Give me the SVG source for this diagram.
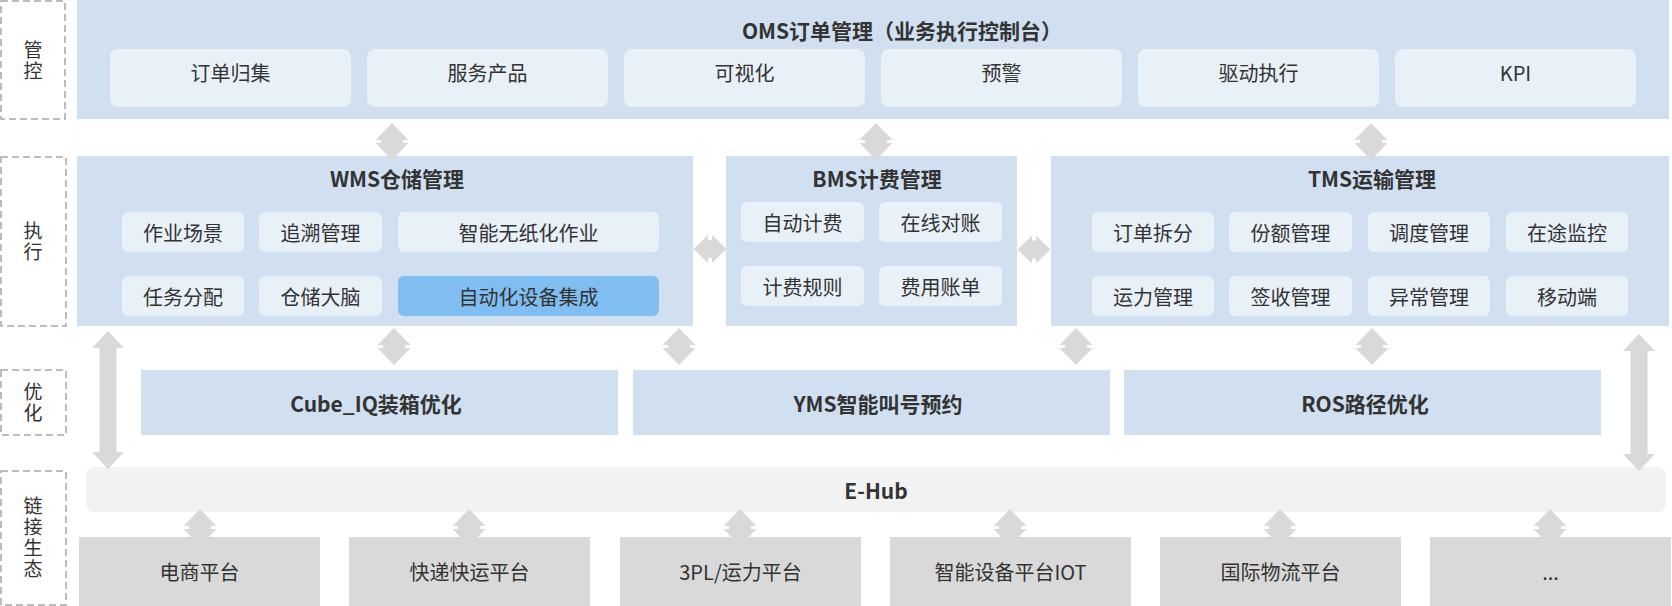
<svg xmlns="http://www.w3.org/2000/svg" xmlns:xlink="http://www.w3.org/1999/xlink" width="1672" height="606" viewBox="0 0 1672 606">
<style>
text{font-family:"Noto Sans CJK SC","Noto Sans",sans-serif;fill:#333;dominant-baseline:central;text-anchor:middle;}
.panel{fill:#d0e0f0;}
.sub{fill:#e8f0f8;}
.hl{fill:#80bdf2;}
.hub{fill:#f2f2f2;}
.eco{fill:#d9d9d9;}
.lab{fill:none;stroke:#a6a6a6;stroke-width:1.5;stroke-dasharray:7 4;}
.t{font-size:21px;font-weight:bold;}
.s{font-size:20px;}
.l{font-size:19px;writing-mode:vertical-rl;letter-spacing:2px;}
.arr{fill:#d9d9d9;}
</style>
<defs>
<path id="va" d="M0,-18.5 L16.5,-1.5 L11,-1.5 L11,1.5 L16.5,1.5 L0,18.5 L-16.5,1.5 L-11,1.5 L-11,-1.5 L-16.5,-1.5 Z"/>
<path id="ha" d="M-16.5,0 L-2,-14 L-2,-9 L2,-9 L2,-14 L16.5,0 L2,14 L2,9 L-2,9 L-2,14 Z"/>
</defs>

<g id="labels">
<g id="lab-guankong"><rect class="lab" x="1" y="1" width="64" height="118"/><text class="l" x="33" y="61.5">管控</text></g>
<g id="lab-zhixing"><rect class="lab" x="1" y="157" width="65" height="169"/><text class="l" x="33" y="242.5">执行</text></g>
<g id="lab-youhua"><rect class="lab" x="1" y="370" width="65" height="65"/><text class="l" x="33" y="403.5">优化</text></g>
<g id="lab-lianjie"><rect class="lab" x="1" y="471" width="65" height="134"/><text class="l" x="33" y="538.5">链接生态</text></g>
</g>

<g id="oms">
<rect class="panel" x="77" y="0" width="1592" height="119"/>
<text class="t" x="902" y="30">OMS订单管理（业务执行控制台）</text>
<rect class="sub" x="110" y="49" width="241" height="58" rx="8"/><text class="s" x="230.5" y="72">订单归集</text>
<rect class="sub" x="367" y="49" width="241" height="58" rx="8"/><text class="s" x="487.5" y="72">服务产品</text>
<rect class="sub" x="624" y="49" width="241" height="58" rx="8"/><text class="s" x="744.5" y="72">可视化</text>
<rect class="sub" x="881" y="49" width="241" height="58" rx="8"/><text class="s" x="1001.5" y="72">预警</text>
<rect class="sub" x="1138" y="49" width="241" height="58" rx="8"/><text class="s" x="1258.5" y="72">驱动执行</text>
<rect class="sub" x="1395" y="49" width="241" height="58" rx="8"/><text class="s" x="1515.5" y="72">KPI</text>
</g>

<g id="wms">
<rect class="panel" x="77" y="156" width="616" height="170"/>
<text class="t" x="397" y="178">WMS仓储管理</text>
<rect class="sub" x="122" y="212" width="122" height="40" rx="6"/><text class="s" x="183" y="232">作业场景</text>
<rect class="sub" x="259" y="212" width="123" height="40" rx="6"/><text class="s" x="320.5" y="232">追溯管理</text>
<rect class="sub" x="398" y="212" width="261" height="40" rx="6"/><text class="s" x="528.5" y="232">智能无纸化作业</text>
<rect class="sub" x="122" y="276" width="122" height="40" rx="6"/><text class="s" x="183" y="296">任务分配</text>
<rect class="sub" x="259" y="276" width="123" height="40" rx="6"/><text class="s" x="320.5" y="296">仓储大脑</text>
<rect class="hl" x="398" y="276" width="261" height="40" rx="6"/><text class="s" x="528.5" y="296">自动化设备集成</text>
</g>

<g id="bms">
<rect class="panel" x="726" y="156" width="291" height="170"/>
<text class="t" x="877" y="178">BMS计费管理</text>
<rect class="sub" x="741" y="202" width="123" height="40" rx="6"/><text class="s" x="802.5" y="222">自动计费</text>
<rect class="sub" x="879" y="202" width="123" height="40" rx="6"/><text class="s" x="940.5" y="222">在线对账</text>
<rect class="sub" x="741" y="266" width="123" height="40" rx="6"/><text class="s" x="802.5" y="286">计费规则</text>
<rect class="sub" x="879" y="266" width="123" height="40" rx="6"/><text class="s" x="940.5" y="286">费用账单</text>
</g>

<g id="tms">
<rect class="panel" x="1051" y="156" width="618" height="170"/>
<text class="t" x="1372" y="178">TMS运输管理</text>
<rect class="sub" x="1092" y="212" width="122" height="40" rx="6"/><text class="s" x="1153" y="232">订单拆分</text>
<rect class="sub" x="1229" y="212" width="123" height="40" rx="6"/><text class="s" x="1290.5" y="232">份额管理</text>
<rect class="sub" x="1368" y="212" width="122" height="40" rx="6"/><text class="s" x="1429" y="232">调度管理</text>
<rect class="sub" x="1506" y="212" width="122" height="40" rx="6"/><text class="s" x="1567" y="232">在途监控</text>
<rect class="sub" x="1092" y="276" width="122" height="40" rx="6"/><text class="s" x="1153" y="296">运力管理</text>
<rect class="sub" x="1229" y="276" width="123" height="40" rx="6"/><text class="s" x="1290.5" y="296">签收管理</text>
<rect class="sub" x="1368" y="276" width="122" height="40" rx="6"/><text class="s" x="1429" y="296">异常管理</text>
<rect class="sub" x="1506" y="276" width="122" height="40" rx="6"/><text class="s" x="1567" y="296">移动端</text>
</g>

<g id="cube"><rect class="panel" x="141" y="370" width="477" height="65"/><text class="t" x="376" y="403">Cube_IQ装箱优化</text></g>
<g id="yms"><rect class="panel" x="633" y="370" width="477" height="65"/><text class="t" x="878" y="403">YMS智能叫号预约</text></g>
<g id="ros"><rect class="panel" x="1124" y="370" width="477" height="65"/><text class="t" x="1365" y="403">ROS路径优化</text></g>

<g id="ehub"><rect class="hub" x="86" y="467" width="1580" height="45" rx="8"/><text class="t" x="876" y="490">E-Hub</text></g>

<g id="connectors">
<use xlink:href="#va" class="arr" x="392" y="141.5"/>
<use xlink:href="#va" class="arr" x="876" y="141.5"/>
<use xlink:href="#va" class="arr" x="1371" y="141.5"/>
<use xlink:href="#ha" class="arr" x="710" y="249"/>
<use xlink:href="#ha" class="arr" x="1034" y="249.5"/>
<use xlink:href="#va" class="arr" x="394" y="346.5"/>
<use xlink:href="#va" class="arr" x="679" y="346.5"/>
<use xlink:href="#va" class="arr" x="1076" y="346.5"/>
<use xlink:href="#va" class="arr" x="1372" y="346.5"/>
<path class="arr" d="M108,331 L124,348 L116.5,348 L116.5,452 L124,452 L108,469 L92,452 L99.5,452 L99.5,348 L92,348 Z"/>
<path class="arr" d="M1639,334 L1655,351 L1647.5,351 L1647.5,454 L1655,454 L1639,471 L1623,454 L1630.5,454 L1630.5,351 L1623,351 Z"/>
<use xlink:href="#va" class="arr" x="200" y="527.5"/>
<use xlink:href="#va" class="arr" x="469" y="527.5"/>
<use xlink:href="#va" class="arr" x="740" y="527.5"/>
<use xlink:href="#va" class="arr" x="1010" y="527.5"/>
<use xlink:href="#va" class="arr" x="1280" y="527.5"/>
<use xlink:href="#va" class="arr" x="1550" y="527.5"/>
</g>

<g id="ecosystem">
<g id="eco-1"><rect class="eco" x="79" y="537" width="241" height="69"/><text class="s" x="199.5" y="571.5">电商平台</text></g>
<g id="eco-2"><rect class="eco" x="349" y="537" width="241" height="69"/><text class="s" x="469.5" y="571.5">快递快运平台</text></g>
<g id="eco-3"><rect class="eco" x="620" y="537" width="241" height="69"/><text class="s" x="740.5" y="571.5">3PL/运力平台</text></g>
<g id="eco-4"><rect class="eco" x="890" y="537" width="241" height="69"/><text class="s" x="1010.5" y="571.5">智能设备平台IOT</text></g>
<g id="eco-5"><rect class="eco" x="1160" y="537" width="241" height="69"/><text class="s" x="1280.5" y="571.5">国际物流平台</text></g>
<g id="eco-6"><rect class="eco" x="1430" y="537" width="241" height="69"/><text class="s" x="1550.5" y="571.5">...</text></g>
</g>
</svg>
